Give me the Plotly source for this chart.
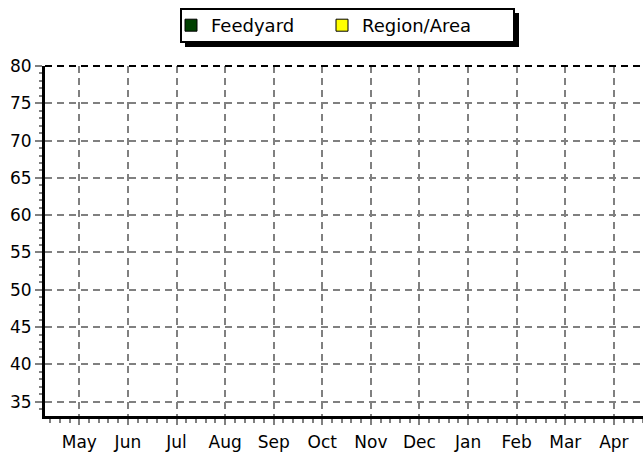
import plotly.graph_objects as go

months = ["May", "Jun", "Jul", "Aug", "Sep", "Oct", "Nov", "Dec", "Jan", "Feb", "Mar", "Apr"]
month_pos = list(range(len(months)))
y_ticks = [35, 40, 45, 50, 55, 60, 65, 70, 75, 80]
series_names = ["Feedyard", "Region/Area"]
series_colors = ["#004000", "#FFFF00"]
feedyard_values = []
region_values = []

FONT = "DejaVu Sans, Liberation Sans, Arial, sans-serif"

fig = go.Figure()
for name, color, vals in zip(series_names, series_colors, [feedyard_values, region_values]):
    fig.add_trace(go.Bar(
        x=month_pos[:len(vals)] if vals else [None],
        y=vals if vals else [None],
        name=name,
        marker=dict(color=color, line=dict(color="black", width=1)),
    ))

grid = dict(showgrid=True, gridcolor="#808080", gridwidth=2, griddash="7px,5px")

PLOT_L, PLOT_T, PLOT_B, W, H = 45, 66, 416, 643, 456
pw, ph = W - PLOT_L, PLOT_B - PLOT_T


def px2paper(x, y):
    return (x - PLOT_L) / pw, (PLOT_B - y) / ph


lx, ly = px2paper(171, 7)

fig.update_layout(
    width=W, height=H,
    margin=dict(l=PLOT_L, r=0, t=PLOT_T, b=H - PLOT_B, autoexpand=False),
    plot_bgcolor="white", paper_bgcolor="white",
    font=dict(family=FONT, size=17, color="black"),
    showlegend=True,
    legend=dict(
        orientation="h", x=lx, xanchor="left", y=ly, yanchor="top",
        bgcolor="rgba(0,0,0,0)", borderwidth=0,
        font=dict(family=FONT, size=18, color="black"),
        entrywidth=106, entrywidthmode="pixels",
        itemclick=False,
    ),
    xaxis=dict(
        range=[-0.706, 11.6], tickmode="array", tickvals=month_pos, ticktext=months,
        showline=True, linecolor="black", linewidth=3,
        ticks="outside", ticklen=6, tickcolor="#808080", tickwidth=2,
        ticklabelstandoff=3,
        minor=dict(ticks="outside", ticklen=4, tickcolor="#808080", tickwidth=2, dtick=0.2, tick0=0, showgrid=False),
        zeroline=False, automargin=False, **grid,
    ),
    yaxis=dict(
        range=[33.08, 80], tickmode="array", tickvals=y_ticks,
        showline=True, linecolor="black", linewidth=3,
        ticks="outside", ticklen=7, tickcolor="#808080", tickwidth=2,
        minor=dict(ticks="outside", ticklen=3, tickcolor="#808080", tickwidth=2, dtick=1, tick0=0, showgrid=False),
        zeroline=False, automargin=False, **grid,
    ),
)

# legend drop shadow and frame (legend entries are drawn on top)
sx0, sy0 = px2paper(185, 13)
sx1, sy1 = px2paper(519, 47)
fig.add_shape(type="rect", xref="paper", yref="paper", x0=sx0, x1=sx1, y0=sy1, y1=sy0,
              fillcolor="black", line=dict(width=0), layer="above")
bx0, by0 = px2paper(181, 9)
bx1, by1 = px2paper(514, 42)
fig.add_shape(type="rect", xref="paper", yref="paper", x0=bx0, x1=bx1, y0=by1, y1=by0,
              fillcolor="white", line=dict(color="black", width=2), layer="above")

# top border: black dashed line at the top of the plot area
fig.add_shape(type="line", xref="paper", yref="paper", x0=0, x1=1, y0=1, y1=1,
              line=dict(color="black", width=2, dash="7px,5px"), layer="above")

fig.write_html("out.html", config={"displayModeBar": False},
               post_script="document.body.style.margin='0';")
